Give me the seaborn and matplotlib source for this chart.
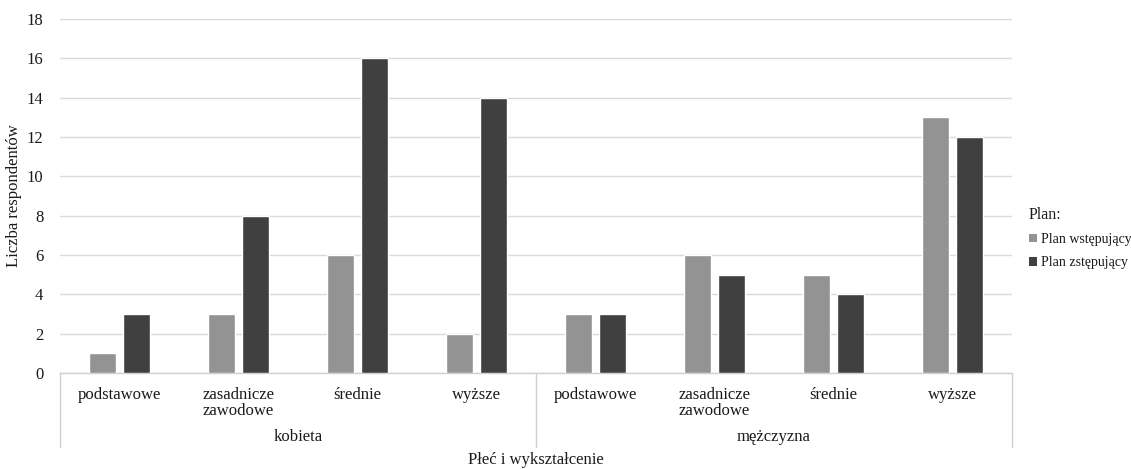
import matplotlib
matplotlib.use("Agg")
import matplotlib.pyplot as plt
import seaborn as sns
import pandas as pd
from matplotlib.lines import Line2D
from matplotlib.patches import Patch

# Data
genders = ["kobieta", "mężczyzna"]
education = ["podstawowe", "zasadnicze\nzawodowe", "średnie", "wyższe"]
plans = ["Plan wstępujący", "Plan zstępujący"]
plan_up = [1, 3, 6, 2, 3, 6, 5, 13]
plan_down = [3, 8, 16, 14, 3, 5, 4, 12]
y_ticks = [0, 2, 4, 6, 8, 10, 12, 14, 16, 18]

keys = [f"{g}|{e}" for g in genders for e in education]
df = pd.DataFrame({
    "kategoria": keys * 2,
    "plan": [plans[0]] * len(keys) + [plans[1]] * len(keys),
    "liczba": plan_up + plan_down,
})

sns.set_theme(style="white")
plt.rcParams["font.family"] = ["Liberation Serif", "DejaVu Serif"]

fig = plt.figure(figsize=(11.31, 4.69), dpi=100)
W, H = 1131, 469
ax = fig.add_axes([60 / W, 1 - 373 / H, (1012 - 60) / W, (373 - 19) / H])

colors = ["#939393", "#404040"]
sns.barplot(data=df, x="kategoria", y="liczba", hue="plan", order=keys,
            hue_order=plans, palette=colors, width=0.58, gap=0.22,
            saturation=1, errorbar=None, ax=ax, legend=False, zorder=3)

FS = 12
TXT = "#1a1a1a"
ax.set_ylim(0, 18)
ax.set_yticks(y_ticks)
ax.set_xlim(-0.5, len(keys) - 0.5)
ax.yaxis.grid(True, color="#d9d9d9", linewidth=1.0, zorder=0)
ax.set_axisbelow(True)
for s in ["left", "right", "top"]:
    ax.spines[s].set_visible(False)
ax.spines["bottom"].set_color("#d0d0d0")
ax.spines["bottom"].set_linewidth(1.0)
ax.tick_params(axis="both", length=0, labelsize=FS, colors=TXT)
ax.tick_params(axis="y", pad=12)

# Two-level category axis
ax.set_xticks(range(len(keys)))
ax.set_xticklabels(education * len(genders), fontsize=FS, va="top",
                   linespacing=1.05)
for t in ax.get_xticklabels():
    t.set_multialignment("left")
ax.tick_params(axis="x", pad=10)
ax.set_xlabel("")

trans = ax.get_xaxis_transform()
n = len(education)
for i, g in enumerate(genders):
    ax.text(i * n + (n - 1) / 2, -64 / 354, g, transform=trans,
            ha="center", va="center", fontsize=FS, color=TXT)
for b in range(len(genders) + 1):
    ax.add_line(Line2D([b * n - 0.5, b * n - 0.5], [0, -74 / 354],
                       transform=trans, color="#d0d0d0", linewidth=1.0,
                       clip_on=False))

ax.set_ylabel("Liczba respondentów", fontsize=FS, color=TXT)
ax.yaxis.set_label_coords(-38 / 952, 0.5)
fig.text((60 + 1012) / 2 / W, 1 - 460 / H, "Płeć i wykształcenie",
         ha="center", va="center", fontsize=FS, color=TXT)

handles = [Patch(facecolor=c, edgecolor="none") for c in colors]
leg = fig.legend(handles, plans, title="Plan:", loc="upper left",
                 bbox_to_anchor=(1016 / W, 1 - 194 / H), frameon=False,
                 fontsize=10, title_fontsize=11.5, handlelength=0.6,
                 handleheight=0.6, handletextpad=0.3, labelspacing=0.75)
leg._legend_box.align = "left"
for t in leg.get_texts():
    t.set_color(TXT)
leg.get_title().set_color(TXT)

fig.savefig("out.png", dpi=100)
